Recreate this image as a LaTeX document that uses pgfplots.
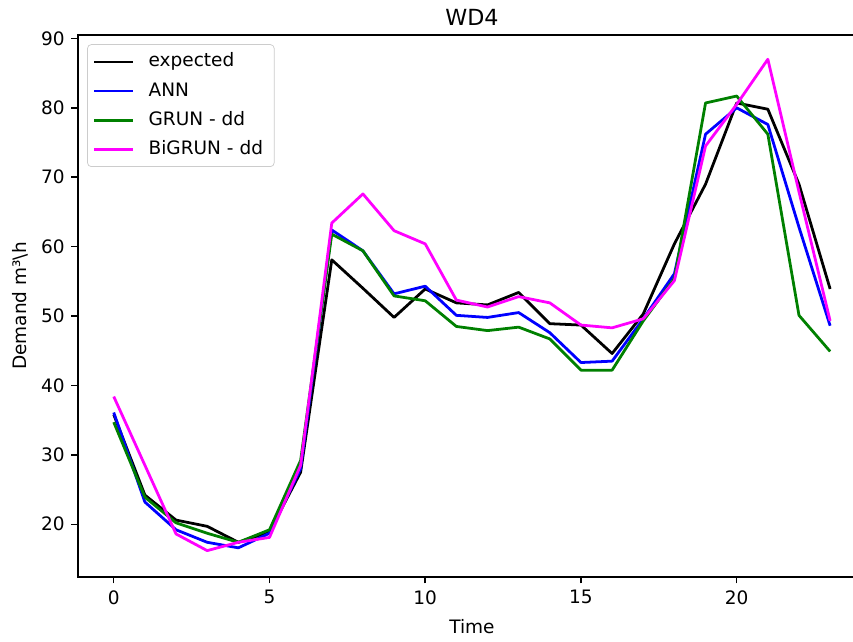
\documentclass[border=0pt]{standalone}
\usepackage{fontspec}
\setmainfont{DejaVu Sans}
\usepackage{pgfplots}
\usepackage{pgfplotstable}
\pgfplotsset{compat=1.18}

\definecolor{mplblue}{RGB}{0,0,255}
\definecolor{mplgreen}{RGB}{0,128,0}
\definecolor{mplmagenta}{RGB}{255,0,255}

% hourly demand, WD4
\pgfplotstableread{
t  expected ann   grun  bigrun
0  35.8     36.1  34.7  38.4
1  24.2     23.2  23.9  28.5
2  20.6     19.2  20.2  18.6
3  19.7     17.4  18.7  16.2
4  17.4     16.6  17.4  17.4
5  18.9     18.7  19.2  18.1
6  27.5     28.0  29.2  28.5
7  58.1     62.4  61.8  63.4
8  54.0     59.4  59.4  67.6
9  49.8     53.2  52.9  62.3
10 53.9     54.3  52.2  60.4
11 51.9     50.1  48.5  52.3
12 51.6     49.8  47.9  51.3
13 53.4     50.5  48.4  52.8
14 48.9     47.6  46.7  51.9
15 48.7     43.3  42.2  48.7
16 44.6     43.5  42.2  48.3
17 50.3     49.6  49.3  49.6
18 60.4     56.1  55.4  55.1
19 69.0     76.2  80.7  74.5
20 80.7     80.0  81.7  80.5
21 79.8     77.6  76.2  87.0
22 69.0     62.8  50.1  67.9
23 53.9     48.6  44.9  49.3
}\demand

\begin{document}
\begin{tikzpicture}
\begin{axis}[
  scale only axis,
  width=425.7pt, height=292.8pt,
  xmin=-1.15, xmax=24.15,
  ymin=12.4, ymax=90.5,
  xtick={0,5,10,15,20},
  ytick={20,30,40,50,60,70,80,90},
  axis line style={line width=0.8pt},
  tick align=outside,
  xtick pos=bottom, ytick pos=left,
  major tick length=3.5pt,
  every tick/.style={black, line width=0.8pt},
  tick label style={font=\fontsize{10}{12}\selectfont, inner sep=0pt},
  x tick label style={yshift=-3.5pt},
  y tick label style={xshift=-3.5pt},
  /pgf/number format/assume math mode=true,
  xlabel={Time},
  ylabel={Demand m³\textbackslash h},
  label style={font=\fontsize{10}{12}\selectfont},
  xlabel style={yshift=-4.5pt},
  ylabel style={yshift=3.4pt},
  title={WD4},
  title style={font=\fontsize{12}{14.4}\selectfont, at={(0.5,1)}, anchor=south, inner sep=0pt, yshift=-1pt},
  legend cell align=left,
  legend style={at={(0,1)}, xshift=5pt, yshift=-5pt, anchor=north west,
    draw=black!20, rounded corners=2pt, fill=white, fill opacity=0.8, text opacity=1,
    inner xsep=3pt, inner ysep=4.5pt, row sep=5.9pt, column sep=7.5pt,
    nodes={inner sep=0pt, text height=7.6pt, text depth=2.2pt},
    font=\fontsize{10}{12}\selectfont},
  legend image code/.code={\draw[#1] (0pt,0pt) -- (21pt,0pt);},
  every axis plot/.append style={line width=1.5pt, line join=round},
]
  \addplot[black] table[x=t, y=expected] {\demand};
  \addplot[mplblue] table[x=t, y=ann] {\demand};
  \addplot[mplgreen] table[x=t, y=grun] {\demand};
  \addplot[mplmagenta] table[x=t, y=bigrun] {\demand};
  \legend{expected, ANN, GRUN - dd, BiGRUN - dd\hspace*{3pt}}
  \coordinate (sw) at (rel axis cs:0,0);
\end{axis}
\pgfresetboundingbox
\path (sw) ++(-42.1pt,-35.1pt) rectangle ++(460.8pt,346.8pt);
\end{tikzpicture}
\end{document}
